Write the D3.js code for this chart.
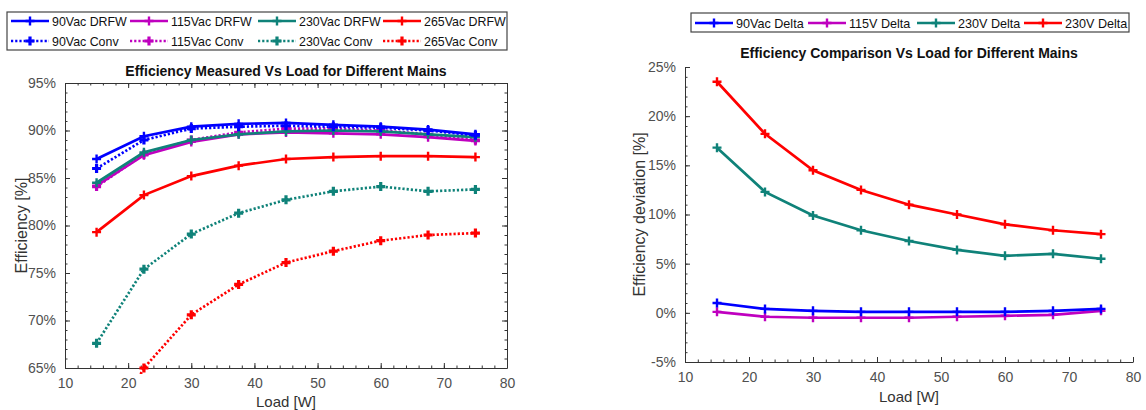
<!DOCTYPE html>
<html>
<head>
<meta charset="utf-8">
<script src="https://cdn.jsdelivr.net/npm/d3@7"></script>
<style>
  body { margin: 0; background: #fff; }
  svg { font-family: "Liberation Sans", Arial, sans-serif; }
  .tick text { fill: #505050; font-size: 14px; }
  .tick line { stroke: #333; }
  .domain { stroke: #333; }
</style>
</head>
<body>
<div id="chart"></div>
<script>
// load points [W]
const loads = [15, 22.5, 30, 37.5, 45, 52.5, 60, 67.5, 75];

// efficiency [%], left chart
const eff90Drfw = [87.0, 89.4, 90.4, 90.7, 90.8, 90.6, 90.4, 90.1, 89.6];
const eff115Drfw = [84.2, 87.4, 88.8, 89.6, 89.8, 89.7, 89.6, 89.3, 88.9];
const eff230Drfw = [84.5, 87.7, 89.0, 89.6, 89.9, 90.0, 89.9, 89.6, 89.3];
const eff265Drfw = [79.3, 83.2, 85.2, 86.3, 87.0, 87.2, 87.3, 87.3, 87.2];
const eff90Conv = [86.0, 89.0, 90.2, 90.4, 90.5, 90.4, 90.3, 90.0, 89.5];
const eff115Conv = [84.1, 87.5, 89.0, 89.8, 90.2, 90.2, 90.0, 89.6, 89.0];
const eff230Conv = [67.6, 75.4, 79.1, 81.3, 82.7, 83.6, 84.1, 83.6, 83.8];
const eff265Conv = [55.8, 65.0, 70.6, 73.8, 76.1, 77.3, 78.4, 79.0, 79.2];

// deviation [%], right chart
const delta90 = [1.0, 0.4, 0.2, 0.1, 0.1, 0.1, 0.1, 0.2, 0.4];
const delta115 = [0.1, -0.4, -0.5, -0.5, -0.5, -0.4, -0.3, -0.2, 0.2];
const delta230 = [16.8, 12.3, 9.9, 8.4, 7.3, 6.4, 5.8, 6.0, 5.5];
const delta265 = [23.5, 18.2, 14.5, 12.5, 11.0, 10.0, 9.0, 8.4, 8.0];

const leftTicks = [65, 70, 75, 80, 85, 90, 95];
const rightTicks = [-5, 0, 5, 10, 15, 20, 25];
const xTicks = [10, 20, 30, 40, 50, 60, 70, 80];

const colors = {
  blue: "#0000ff",
  magenta: "#bf00bf",
  teal: "#0f8279",
  red: "#ff0000",
};

const svg = d3
  .select("#chart")
  .append("svg")
  .attr("width", 1146)
  .attr("height", 410);

function drawPanel(cfg) {
  const x = d3.scaleLinear().domain([10, 80]).range([cfg.x0, cfg.x1]);
  const y = d3.scaleLinear().domain(cfg.yDomain).range([cfg.y1, cfg.y0]);
  const g = svg.append("g");
  const tickLen = 5;

  // minor ticks
  const minorX = d3.range(10, 81, 2);
  const minorY = d3.range(cfg.yDomain[0], cfg.yDomain[1] + 0.1, 1);

  g.append("g")
    .attr("transform", `translate(0,${cfg.y1})`)
    .call(d3.axisBottom(x).tickValues(minorX).tickSize(-2.5).tickFormat(""))
    .call((s) => s.select(".domain").remove());
  g.append("g")
    .attr("transform", `translate(${cfg.x0},0)`)
    .call(d3.axisLeft(y).tickValues(minorY).tickSize(-2.5).tickFormat(""))
    .call((s) => s.select(".domain").remove());

  g.append("g")
    .attr("transform", `translate(0,${cfg.y1})`)
    .call(
      d3.axisBottom(x).tickValues(xTicks).tickSize(-tickLen).tickSizeOuter(0).tickPadding(10)
    );
  g.append("g")
    .attr("transform", `translate(${cfg.x0},0)`)
    .call(
      d3
        .axisLeft(y)
        .tickValues(cfg.yTicks)
        .tickSize(-tickLen)
        .tickSizeOuter(0)
        .tickPadding(9)
        .tickFormat((d) => d + "%")
    );

  if (cfg.box) {
    g.append("g")
      .attr("transform", `translate(0,${cfg.y0})`)
      .call(d3.axisTop(x).tickValues(xTicks).tickSize(-tickLen).tickSizeOuter(0).tickFormat(""));
    g.append("g")
      .attr("transform", `translate(0,${cfg.y0})`)
      .call(d3.axisTop(x).tickValues(minorX).tickSize(-2.5).tickFormat(""))
      .call((s) => s.select(".domain").remove());
    g.append("g")
      .attr("transform", `translate(${cfg.x1},0)`)
      .call(
        d3.axisRight(y).tickValues(cfg.yTicks).tickSize(-tickLen).tickSizeOuter(0).tickFormat("")
      );
    g.append("g")
      .attr("transform", `translate(${cfg.x1},0)`)
      .call(d3.axisRight(y).tickValues(minorY).tickSize(-2.5).tickFormat(""))
      .call((s) => s.select(".domain").remove());
  }

  g.selectAll(".tick text").attr("font-size", 14).attr("font-family", null);

  // clip
  const clipId = "clip" + cfg.x0;
  svg
    .append("clipPath")
    .attr("id", clipId)
    .append("rect")
    .attr("x", cfg.x0)
    .attr("y", cfg.y0 - 6)
    .attr("width", cfg.x1 - cfg.x0)
    .attr("height", cfg.y1 - cfg.y0 + 12);

  const line = d3
    .line()
    .x((d, i) => x(loads[i]))
    .y((d) => y(d));

  const plot = svg.append("g").attr("clip-path", `url(#${clipId})`);

  cfg.series.forEach((s) => {
    plot
      .append("path")
      .datum(s.values)
      .attr("fill", "none")
      .attr("stroke", s.color)
      .attr("stroke-width", 2.7)
      .attr("stroke-dasharray", s.dotted ? "2.2,2" : null)
      .attr("d", line);

    const pts = s.values
      .map((v, i) => [x(loads[i]), y(v)])
      .filter((p) => p[1] <= cfg.y1 + 1);
    plot
      .selectAll(null)
      .data(pts)
      .join("path")
      .attr("fill", "none")
      .attr("stroke", s.color)
      .attr("stroke-width", s.dotted ? 3.2 : 2.4)
      .attr("d", (p) => `M${p[0] - 4.5},${p[1]}h9M${p[0]},${p[1] - 4.5}v9`);
  });

  // title
  svg
    .append("text")
    .attr("x", (cfg.x0 + cfg.x1) / 2)
    .attr("y", cfg.titleY)
    .attr("text-anchor", "middle")
    .attr("font-size", 14)
    .attr("font-weight", "bold")
    .attr("fill", "#111")
    .text(cfg.title);

  svg
    .append("text")
    .attr("x", (cfg.x0 + cfg.x1) / 2)
    .attr("y", cfg.y1 + cfg.xLabelDy)
    .attr("text-anchor", "middle")
    .attr("font-size", 15)
    .attr("fill", "#333")
    .text("Load [W]");

  svg
    .append("text")
    .attr("transform", `translate(${cfg.yLabelX},${(cfg.y0 + cfg.y1) / 2}) rotate(-90)`)
    .attr("text-anchor", "middle")
    .attr("font-size", 16)
    .attr("fill", "#333")
    .text(cfg.yLabel);
}

function drawLegend(box, fontSize, items) {
  svg
    .append("rect")
    .attr("x", box.x)
    .attr("y", box.y)
    .attr("width", box.w)
    .attr("height", box.h)
    .attr("fill", "#fff")
    .attr("stroke", "#444")
    .attr("stroke-width", 1.2);

  items.forEach((it) => {
    const lg = svg.append("g").attr("transform", `translate(${it.x},${it.y})`);
    lg.append("line")
      .attr("x1", 0)
      .attr("x2", 38)
      .attr("stroke", it.color)
      .attr("stroke-width", 2.7)
      .attr("stroke-dasharray", it.dotted ? "2.2,2" : null);
    lg.append("path")
      .attr("d", "M14.5,0h9M19,-4.5v9")
      .attr("stroke", it.color)
      .attr("stroke-width", it.dotted ? 3.2 : 2.4);
    lg.append("text")
      .attr("x", 41)
      .attr("y", 5)
      .attr("font-size", fontSize)
      .attr("fill", "#111")
      .text(it.label);
  });
}

drawPanel({
  x0: 65,
  x1: 507,
  y0: 83,
  y1: 368,
  yDomain: [65, 95],
  yTicks: leftTicks,
  box: true,
  title: "Efficiency Measured Vs Load for Different Mains",
  titleY: 76,
  yLabel: "Efficiency [%]",
  yLabelX: 27,
  xLabelDy: 39,
  series: [
    { values: eff265Conv, color: colors.red, dotted: true },
    { values: eff230Conv, color: colors.teal, dotted: true },
    { values: eff265Drfw, color: colors.red },
    { values: eff115Conv, color: colors.magenta, dotted: true },
    { values: eff115Drfw, color: colors.magenta },
    { values: eff230Drfw, color: colors.teal },
    { values: eff90Conv, color: colors.blue, dotted: true },
    { values: eff90Drfw, color: colors.blue },
  ],
});

drawPanel({
  x0: 685,
  x1: 1133,
  y0: 67,
  y1: 362,
  yDomain: [-5, 25],
  yTicks: rightTicks,
  box: false,
  title: "Efficiency Comparison Vs Load for Different Mains",
  titleY: 58,
  yLabel: "Efficiency deviation [%]",
  yLabelX: 645,
  xLabelDy: 40,
  series: [
    { values: delta115, color: colors.magenta },
    { values: delta90, color: colors.blue },
    { values: delta230, color: colors.teal },
    { values: delta265, color: colors.red },
  ],
});

drawLegend({ x: 7, y: 12, w: 500, h: 38 }, 12.4, [
  { x: 11, y: 21, color: colors.blue, label: "90Vac DRFW" },
  { x: 130, y: 21, color: colors.magenta, label: "115Vac DRFW" },
  { x: 258, y: 21, color: colors.teal, label: "230Vac DRFW" },
  { x: 383, y: 21, color: colors.red, label: "265Vac DRFW" },
  { x: 11, y: 41, color: colors.blue, dotted: true, label: "90Vac Conv" },
  { x: 130, y: 41, color: colors.magenta, dotted: true, label: "115Vac Conv" },
  { x: 258, y: 41, color: colors.teal, dotted: true, label: "230Vac Conv" },
  { x: 383, y: 41, color: colors.red, dotted: true, label: "265Vac Conv" },
]);

drawLegend({ x: 691, y: 13, w: 438, h: 19 }, 12.6, [
  { x: 695, y: 23, color: colors.blue, label: "90Vac Delta" },
  { x: 808, y: 23, color: colors.magenta, label: "115V Delta" },
  { x: 917, y: 23, color: colors.teal, label: "230V Delta" },
  { x: 1024, y: 23, color: colors.red, label: "230V Delta" },
]);
</script>
</body>
</html>
